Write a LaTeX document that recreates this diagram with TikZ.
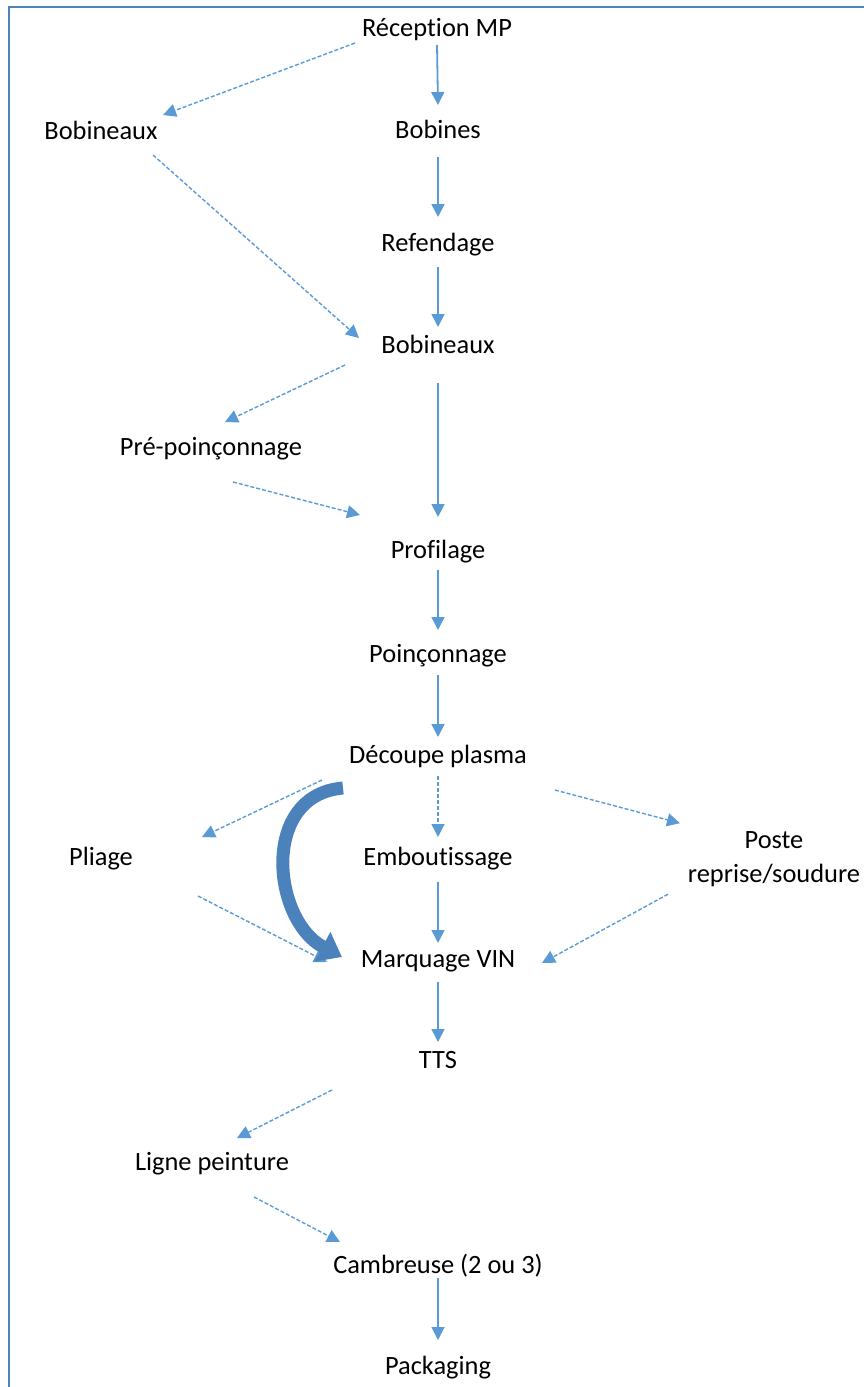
\documentclass[tikz,border=0pt]{standalone}
\usepackage{fontspec}
\setmainfont{Carlito}[Ligatures={NoCommon}, RawFeature={-liga;-dlig}]
\usetikzlibrary{arrows.meta,calc}
\definecolor{arrowblue}{RGB}{91,155,213}
\definecolor{frameblue}{RGB}{79,129,189}
\definecolor{curveblue}{RGB}{76,130,188}
\tikzset{
  lbl/.style={inner sep=0pt, font=\fontsize{26.4}{34}\selectfont, text height=18pt, text depth=5pt},
  lbltwo/.style={inner sep=0pt, font=\fontsize{26.4}{34}\selectfont},
  sol/.style={draw=arrowblue, line width=1.8pt, -{Triangle[length=13pt,width=13pt]}},
  dsh/.style={draw=arrowblue, line width=1.4pt, dash pattern=on 4pt off 2pt, -{Triangle[length=13pt,width=13pt]}},
  bigcurve/.style={draw=curveblue, line width=13pt, -{Triangle[length=22pt,width=32pt]}},
  frameline/.style={draw=frameblue, line width=2pt}
}
\begin{document}
\begin{tikzpicture}[x=1pt,y=-1pt]
\useasboundingbox (0,0) rectangle (864,1387);
\draw[frameline] (9,1400) -- (9,7) -- (880,7);

\node[lbl] (recep)   at (437,30)    {Réception MP};
\node[lbl] (bobL)    at (101,132.5) {Bobineaux};
\node[lbl] (bobines) at (438,131.5) {Bobines};
\node[lbl] (refend)  at (438,245)   {Refendage};
\node[lbl] (bobC)    at (438,346.5) {Bobineaux};
\node[lbl] (pre)     at (211,448.5) {Pré-poinçonnage};
\node[lbl] (profil)  at (438,552)   {Profilage};
\node[lbl] (poinc)   at (438,655.5) {Poinçonnage};
\node[lbl] (decoupe) at (438,757)   {Découpe plasma};
\node[lbl] (pliage)  at (101,858.5) {Pliage};
\node[lbl] (embout)  at (438,858.5) {Emboutissage};
\node[lbltwo] (poste) at (774,858.2) {\begin{tabular}{@{}c@{}}Poste\\reprise/soudure\end{tabular}};
\node[lbl] (marq)    at (438,960.5) {Marquage VIN};
\node[lbl] (tts)     at (438,1062)  {TTS};
\node[lbl] (ligne)   at (212,1164)  {Ligne peinture};
\node[lbl] (cambr)   at (438,1267)  {Cambreuse (2 ou 3)};
\node[lbl] (pack)    at (438,1368)  {Packaging};

% solid vertical arrows
\draw[sol] ($(recep)+(0,15)$)   -- ($(bobines)+(0,-26.5)$);
\draw[sol] ($(bobines)+(0,25.5)$) -- ($(refend)+(0,-28)$);
\draw[sol] ($(refend)+(0,22)$)  -- ($(bobC)+(0,-19.5)$);
\draw[sol] ($(bobC)+(0,36.5)$)  -- ($(profil)+(0,-35)$);
\draw[sol] ($(profil)+(0,18)$)  -- ($(poinc)+(0,-25.5)$);
\draw[sol] ($(poinc)+(0,19.5)$) -- ($(decoupe)+(0,-20)$);
\draw[dsh] ($(decoupe)+(0,19)$) -- ($(embout)+(0,-21.5)$);
\draw[sol] ($(embout)+(0,23.5)$) -- ($(marq)+(0,-17.5)$);
\draw[sol] ($(marq)+(0,21.5)$)  -- ($(tts)+(0,-20)$);
\draw[sol] ($(cambr)+(0,11)$)   -- ($(pack)+(0,-28)$);

% dashed diagonal arrows
\draw[dsh] ($(recep)+(-82,13)$)    -- ($(bobL)+(62,-17.5)$);
\draw[dsh] ($(bobL)+(52,22.5)$)    -- ($(bobC)+(-79,-8.5)$);
\draw[dsh] ($(bobC)+(-93,18.5)$)   -- ($(pre)+(14,-26.5)$);
\draw[dsh] ($(pre)+(22,33.5)$)     -- ($(profil)+(-78,-37)$);
\draw[dsh] ($(decoupe)+(-116,23)$) -- ($(pliage)+(101,-21.5)$);
\draw[dsh] ($(pliage)+(97,37.5)$)  -- ($(marq)+(-111,1.5)$);
\draw[dsh] ($(decoupe)+(117,33)$)  -- ($(poste)+(-94,-35)$);
\draw[dsh] ($(poste)+(-106,36)$)   -- ($(marq)+(104,2.5)$);
\draw[dsh] ($(tts)+(-106,28)$)     -- ($(ligne)+(25,-26)$);
\draw[dsh] ($(ligne)+(42,33)$)     -- ($(cambr)+(-98,-25)$);

% thick curved arrow
\draw[bigcurve] ($(decoupe)+(-95,31)$) .. controls +(-83,7) and +(-70,-37) .. ($(marq)+(-96,-3.5)$);
\end{tikzpicture}
\end{document}
